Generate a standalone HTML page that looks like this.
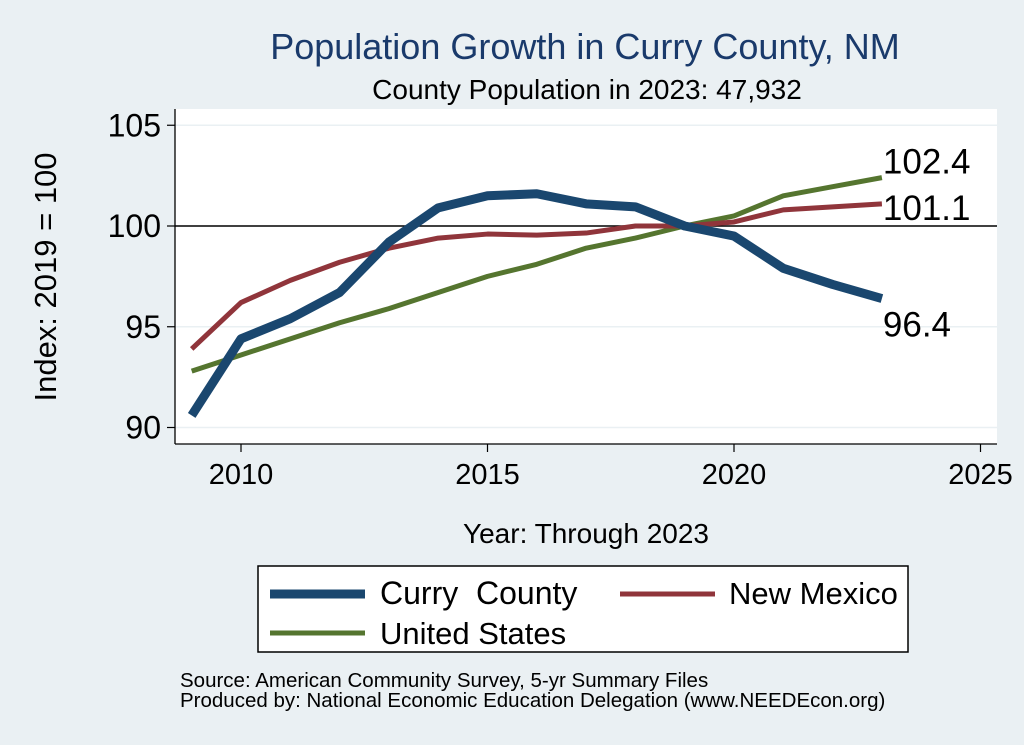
<!DOCTYPE html>
<html><head><meta charset="utf-8"><style>
body{margin:0;background:#eaf0f3;font-family:"Liberation Sans",sans-serif}
svg{display:block}
</style></head><body>
<svg width="1024" height="745" xmlns="http://www.w3.org/2000/svg">
<rect width="1024" height="745" fill="#eaf0f3"/>
<rect x="175" y="109" width="822" height="335" fill="#fff"/>
<text x="585" y="59" font-size="36" fill="#1a3a6b" text-anchor="middle">Population Growth in Curry County, NM</text>
<text x="587" y="99" font-size="28" text-anchor="middle">County Population in 2023: 47,932</text>
<g id="grid"></g>
<g id="axes"></g>
<g id="series"></g>
<text x="56" y="277" font-size="31" text-anchor="middle" transform="rotate(-90 56 277)">Index: 2019 = 100</text>
<text x="586" y="543" font-size="28" text-anchor="middle">Year: Through 2023</text>
<g>
<rect x="258" y="566" width="650" height="86" fill="#fff" stroke="#000" stroke-width="1.5"/>
<line x1="270" y1="594" x2="365" y2="594" stroke="#1a476f" stroke-width="9"/>
<text x="380" y="604" font-size="32" xml:space="preserve">Curry  County</text>
<line x1="620" y1="594" x2="715" y2="594" stroke="#90353b" stroke-width="5"/>
<text x="729" y="604" font-size="31">New Mexico</text>
<line x1="270" y1="633" x2="365" y2="633" stroke="#55752f" stroke-width="5"/>
<text x="380" y="644" font-size="31">United States</text>
</g>
<text x="180" y="687" font-size="20.5">Source: American Community Survey, 5-yr Summary Files</text>
<text x="180" y="707" font-size="20.5">Produced by: National Economic Education Delegation (www.NEEDEcon.org)</text>
</svg>
<script>
const years=[2009,2010,2011,2012,2013,2014,2015,2016,2017,2018,2019,2020,2021,2022,2023];
const curry=[90.6,94.4,95.4,96.7,99.2,100.9,101.5,101.6,101.1,100.95,100,99.5,97.9,97.1,96.4];
const newMexico=[93.9,96.2,97.3,98.2,98.9,99.4,99.6,99.55,99.65,100,100,100.2,100.8,100.95,101.1];
const unitedStates=[92.8,93.6,94.4,95.2,95.9,96.7,97.5,98.1,98.9,99.4,100,100.5,101.5,101.95,102.4];
const yTicks=[90,95,100,105];
const xTicks=[2010,2015,2020,2025];
const NS="http://www.w3.org/2000/svg";
const X=v=>241+(v-2010)*49.3;
const Y=v=>226-(v-100)*20.15;
function mk(tag,attrs,parent,txt){const e=document.createElementNS(NS,tag);for(const k in attrs)e.setAttribute(k,attrs[k]);if(txt!==undefined)e.textContent=txt;parent.appendChild(e);return e;}
const grid=document.getElementById('grid'),axes=document.getElementById('axes'),ser=document.getElementById('series');
yTicks.forEach(t=>{
 if(t!==100){const g=mk('line',{x1:175,x2:997,y1:Y(t),y2:Y(t),stroke:'#eaf0f3','stroke-width':1.5},grid);
 
 }
 const tk=mk('line',{x1:167,x2:175,y1:Y(t),y2:Y(t),stroke:'#000','stroke-width':1.2},axes);
 
 
 const l=mk('text',{x:161,y:Y(t)+11,'font-size':32,'text-anchor':'end'},axes,String(t));
 
 
});
const ref=mk('line',{x1:175,x2:997,y1:Y(100),y2:Y(100),stroke:'#000','stroke-width':1.5},axes);


const ya=mk('line',{x1:175,x2:175,y1:109,y2:444,stroke:'#000','stroke-width':1.3},axes);


const xa=mk('line',{x1:175,x2:997,y1:444,y2:444,stroke:'#000','stroke-width':1.3},axes);


xTicks.forEach(t=>{
 const tk=mk('line',{x1:X(t),x2:X(t),y1:444,y2:452,stroke:'#000','stroke-width':1.2},axes);
 
 
 const l=mk('text',{x:X(t),y:484,'font-size':29,'text-anchor':'middle'},axes,String(t));
 
 
});
function line(vals,color,w,name){
 const p=mk('polyline',{points:vals.map((v,i)=>X(years[i])+','+Y(v)).join(' '),fill:'none',stroke:color,'stroke-width':w,'stroke-linejoin':'round'},ser);
 
 
}
line(unitedStates,'#55752f',5,'line-united-states');
line(newMexico,'#90353b',5,'line-new-mexico');
line(curry,'#1a476f',9,'line-curry-county');
const last=years.length-1;
[[unitedStates,-4,'label-us-end'],[newMexico,16,'label-nm-end'],[curry,38,'label-curry-end']].forEach(([s,dy,n])=>{
 const l=mk('text',{x:X(years[last])+1,y:Y(s[last])+dy,'font-size':35},ser,s[last].toFixed(1));
 
 
});
</script>
</body></html>
